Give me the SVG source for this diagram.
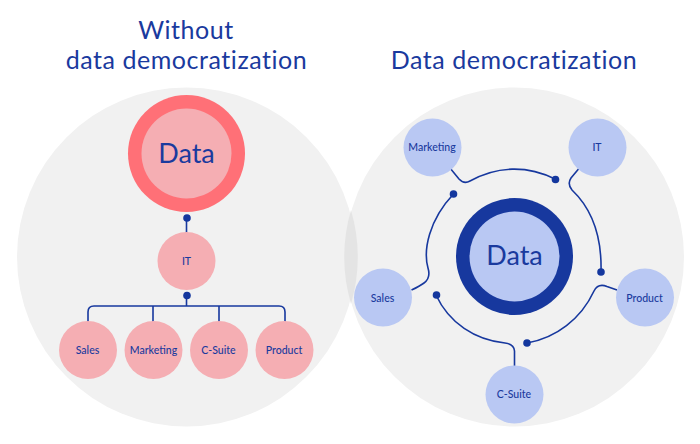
<svg xmlns="http://www.w3.org/2000/svg" width="700" height="444" viewBox="0 0 700 444">
<style>
text{font-family:"Lato","Noto Sans",sans-serif;fill:#1a3a9e;text-anchor:middle}
.t{font-size:25px;letter-spacing:.55px}
.s{font-size:10.500px;font-weight:500}
.d{font-size:27px}
.p{fill:#f5aeb3}
.b{fill:#b9c8f3}
.c{fill:none;stroke:#17389e;stroke-width:1.600}
.o{fill:#14379e}
</style>
<rect width="700" height="444" fill="#fff"/>
<circle cx="186.500" cy="257" r="169.500" fill="#f1f1f1"/>
<circle cx="514.500" cy="257" r="169.500" fill="#f1f1f1"/>
<path d="M351 210A169.500 169.500 0 0 1 351 304A169.500 169.500 0 0 1 351 210Z" fill="#e4e4e4"/>
<text class="t" x="186" y="39">Without</text>
<text class="t" x="186.500" y="69">data democratization</text>
<text class="t" x="514" y="69">Data democratization</text>
<g id="connectors">
<path class="c" d="M186.500 218V233"/>
<path class="c" d="M186.500 296V306M88 322V312Q88 306 94 306H279Q285 306 285 312V322M153 306V322M219 306V322"/>
<path class="c" d="M451 169.300L459 179Q464 184.500 470 181C497 166 527 165 555 179"/>
<path class="c" d="M578.500 169L571 178Q567 184 572 190C592 209 602 235 601 272"/>
<path class="c" d="M453.500 194C429 220 423 250 428 268Q431 278 424 283Q420 286 411.500 290"/>
<path class="c" d="M617 290L607 286.500Q598 283 594 291C581 319 556 338 527 343"/>
<path class="c" d="M514.500 366V351Q514 344 505 343C475 340 449 323 436 295"/>
<circle class="o" cx="187" cy="218" r="3.800"/>
<circle class="o" cx="187" cy="295.500" r="3.800"/>
<circle class="o" cx="555.500" cy="179.500" r="3.800"/>
<circle class="o" cx="601" cy="272" r="3.800"/>
<circle class="o" cx="453.500" cy="194" r="3.800"/>
<circle class="o" cx="527" cy="343" r="3.800"/>
<circle class="o" cx="436.500" cy="295" r="3.800"/>
</g>
<g id="left-data"><circle cx="186.500" cy="153.500" r="58.500" fill="#ff7077"/><circle class="p" cx="186.500" cy="153.500" r="45"/><text class="d" x="186.500" y="163">Data</text></g>
<g id="left-it"><circle class="p" cx="186.500" cy="261" r="29"/><text class="s" x="186.500" y="265">IT</text></g>
<g id="left-sales"><circle class="p" cx="88" cy="350" r="29"/><text class="s" x="87.500" y="354">Sales</text></g>
<g id="left-marketing"><circle class="p" cx="153.500" cy="350" r="29"/><text class="s" x="153.500" y="354">Marketing</text></g>
<g id="left-csuite"><circle class="p" cx="219" cy="350" r="29"/><text class="s" x="218.500" y="354">C-Suite</text></g>
<g id="left-product"><circle class="p" cx="284.500" cy="350" r="29"/><text class="s" x="284" y="354">Product</text></g>
<g id="right-data"><circle cx="514.500" cy="256.500" r="58.500" fill="#17389e"/><circle class="b" cx="514.500" cy="256.500" r="45"/><text class="d" x="514.500" y="265">Data</text></g>
<g id="right-marketing"><circle class="b" cx="432.500" cy="147.500" r="29"/><text class="s" x="432" y="151">Marketing</text></g>
<g id="right-it"><circle class="b" cx="597.500" cy="147.500" r="29"/><text class="s" x="597" y="151">IT</text></g>
<g id="right-sales"><circle class="b" cx="383" cy="297.500" r="29"/><text class="s" x="382.500" y="301.500">Sales</text></g>
<g id="right-product"><circle class="b" cx="645" cy="297.500" r="29"/><text class="s" x="644.500" y="301.500">Product</text></g>
<g id="right-csuite"><circle class="b" cx="514.500" cy="394.500" r="29"/><text class="s" x="514" y="398">C-Suite</text></g>
</svg>
